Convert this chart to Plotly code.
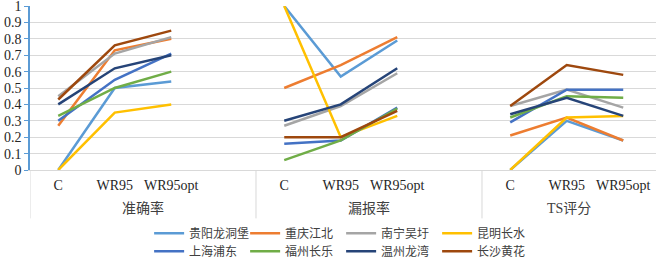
import plotly.graph_objects as go

groups = ['准确率', '漏报率', 'TS评分']
cats = ['C', 'WR95', 'WR95opt']

series_names = ['贵阳龙洞堡', '重庆江北', '南宁吴圩', '昆明长水',
                '上海浦东', '福州长乐', '温州龙湾', '长沙黄花']
colors = ['#5B9BD5', '#ED7D31', '#A5A5A5', '#FFC000',
          '#4472C4', '#70AD47', '#264478', '#9E480E']

# values: 准确率 (C, WR95, WR95opt), 漏报率 (...), TS评分 (...)
guiyang  = [0.00, 0.50, 0.54, 1.00, 0.57, 0.79, 0.00, 0.30, 0.18]
chongqing = [0.27, 0.73, 0.80, 0.50, 0.64, 0.81, 0.21, 0.32, 0.18]
nanning  = [0.45, 0.71, 0.81, 0.27, 0.39, 0.59, 0.39, 0.49, 0.38]
kunming  = [0.00, 0.35, 0.40, 1.00, 0.20, 0.33, 0.00, 0.32, 0.33]
shanghai = [0.30, 0.55, 0.71, 0.16, 0.18, 0.38, 0.29, 0.49, 0.49]
fuzhou   = [0.33, 0.50, 0.60, 0.06, 0.18, 0.375, 0.32, 0.45, 0.44]
wenzhou  = [0.40, 0.62, 0.70, 0.30, 0.40, 0.62, 0.34, 0.44, 0.33]
changsha = [0.43, 0.76, 0.85, 0.20, 0.20, 0.36, 0.39, 0.64, 0.58]

all_values = [guiyang, chongqing, nanning, kunming, shanghai, fuzhou, wenzhou, changsha]

SLOTS = 4  # 3 categories + 1 empty slot per group
x_range = [-0.5, 10.58]

xs = []
for g in range(len(groups)):
    for j in range(len(cats)):
        xs.append(g * SLOTS + j)

def with_gaps(vals):
    x_out, y_out = [], []
    for g in range(len(groups)):
        for j in range(len(cats)):
            x_out.append(g * SLOTS + j)
            y_out.append(vals[g * len(cats) + j])
        x_out.append(None)
        y_out.append(None)
    return x_out, y_out

fig = go.Figure()
for i, (name, vals, col) in enumerate(zip(series_names, all_values, colors)):
    xx, yy = with_gaps(vals)
    fig.add_trace(go.Scatter(
        x=xx, y=yy, mode='lines', name=name,
        line=dict(color=col, width=2.5),
        connectgaps=False,
        legend='legend' if i < 4 else 'legend2',
    ))

serif = '"Liberation Serif", "Times New Roman", "Noto Sans CJK SC", serif'

# group labels
annotations = []
for g, gname in enumerate(groups):
    left = g * SLOTS - 0.5
    right = min((g + 1) * SLOTS - 0.5, x_range[1])
    annotations.append(dict(
        x=(left + right) / 2, y=0, xref='x', yref='paper',
        text=gname, showarrow=False, yanchor='middle', yshift=-38,
        font=dict(family=serif, size=14, color='#404040'),
    ))

shapes = []
for g in range(len(groups)):
    xpos = g * SLOTS - 0.5
    shapes.append(dict(
        type='line', xref='x', yref='paper', x0=xpos, x1=xpos,
        y0=0, y1=-0.295, line=dict(color='#D9D9D9', width=1),
    ))

legend_common = dict(
    orientation='h', xanchor='center', x=0.497, yanchor='middle',
    font=dict(family=serif, size=12, color='#404040'),
    bgcolor='rgba(0,0,0,0)', entrywidthmode='pixels', entrywidth=51,
    tracegroupgap=0, itemwidth=30,
)

fig.update_layout(
    width=656, height=264,
    margin=dict(l=30, r=0, t=6, b=94, autoexpand=False),
    plot_bgcolor='white', paper_bgcolor='white',
    font=dict(family=serif, color='#404040'),
    xaxis=dict(
        range=x_range, tickmode='array', tickvals=xs,
        ticktext=cats * len(groups), showgrid=False, zeroline=False,
        showline=True, linecolor='#D9D9D9', linewidth=1, ticks='',
        tickfont=dict(family=serif, size=14, color='#262626'),
        automargin=False, ticklabeloverflow='allow',
        ticklabelstandoff=2,
    ),
    yaxis=dict(
        range=[0, 1], dtick=0.1, tick0=0, showgrid=True,
        gridcolor='#D9D9D9', gridwidth=1, zeroline=False,
        showline=True, linecolor='#5B9BD5', linewidth=1.5,
        ticks='outside', ticklen=4, tickcolor='#5B9BD5',
        tickfont=dict(family=serif, size=14, color='#262626'),
        automargin=False, ticklabeloverflow='allow',
    ),
    legend=dict(y=-0.385, **legend_common),
    legend2=dict(y=-0.495, **legend_common),
    annotations=annotations,
    shapes=shapes,
    showlegend=True,
)

fig.write_html('out.html', config={'displayModeBar': False},
               post_script="document.body.style.margin='0';document.body.style.padding='0';")
